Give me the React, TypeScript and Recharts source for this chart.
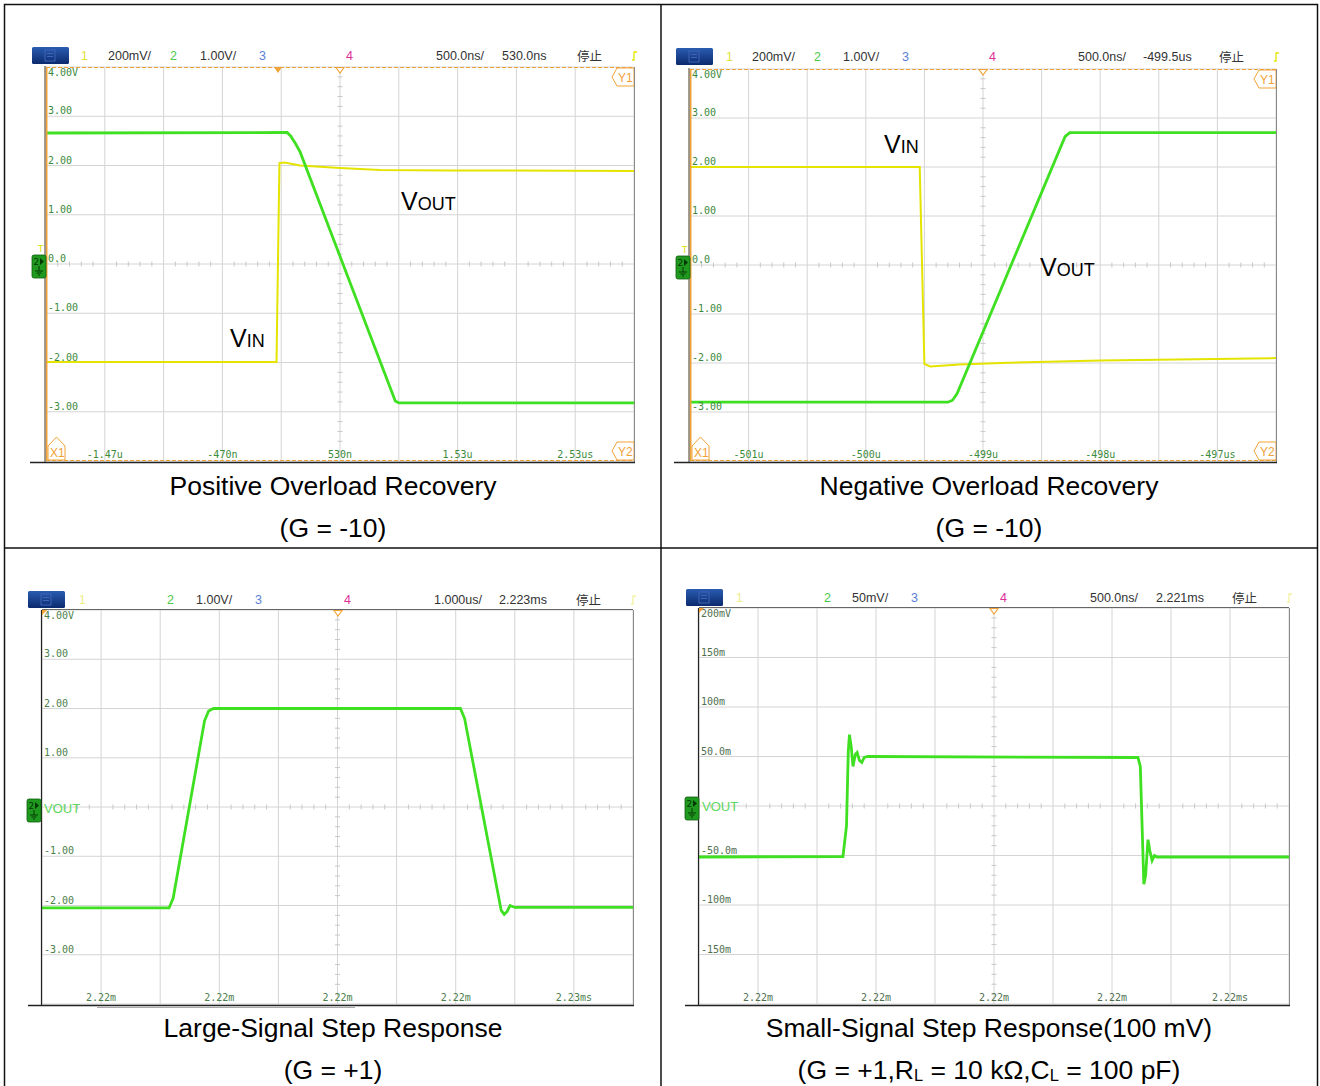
import { CartesianGrid, Line, LineChart, ReferenceLine, XAxis, YAxis } from "recharts";

const GREEN = "#3fdf22";
const YELLOW = "#e4e400";
const ORANGE = "#f0a236";
const MONO = "'DejaVu Sans Mono', monospace";

// Positive Overload Recovery (G = -10): time in µs from trigger, screen volts
const posXLabels = ["", "-1.47u", "", "-470n", "", "530n", "", "1.53u", "", "2.53us", ""];
const posVinT = [-1.97, -0.01, 0.015, 0.06, 0.19, 0.53, 0.87, 1.46, 3.03];
const posVinV = [-1.99, -1.99, 2.05, 2.06, 2.0, 1.95, 1.91, 1.9, 1.89];
const posVoutT = [-1.97, 0.08, 0.11, 0.15, 0.19, 1.0, 1.03, 3.03];
const posVoutV = [2.66, 2.67, 2.6, 2.45, 2.28, -2.78, -2.82, -2.82];

// Negative Overload Recovery (G = -10)
const negXLabels = ["", "-501u", "", "-500u", "", "-499u", "", "-498u", "", "-497us", ""];
const negVinT = [-502, -500.04, -500.0, -499.95, -499.7, -499.35, -498.5, -497];
const negVinV = [2.0, 2.0, -2.02, -2.07, -2.03, -2.0, -1.95, -1.9];
const negVoutT = [-502, -499.8, -499.76, -499.72, -498.8, -498.76, -497];
const negVoutV = [-2.8, -2.8, -2.76, -2.62, 2.62, 2.7, 2.7];

const voltLabels = ["", "-3.00", "-2.00", "-1.00", "0.0", "1.00", "2.00", "3.00", "4.00V"];

// Large-Signal Step Response (G = +1): µs, V
const lsXLabels = ["", "2.22m", "", "2.22m", "", "2.22m", "", "2.22m", "", "2.23ms", ""];
const lsYLabels = ["", "-3.00", "-2.00", "-1.00", "", "1.00", "2.00", "3.00", "4.00V"];
const lsT = [2218, 2220.15, 2220.22, 2220.75, 2220.82, 2220.9, 2225.08, 2225.15, 2225.77, 2225.82, 2225.87, 2225.92, 2226.0, 2228];
const lsV = [-2.05, -2.05, -1.85, 1.75, 1.95, 2.0, 2.0, 1.8, -2.1, -2.18, -2.12, -2.0, -2.04, -2.04];

// Small-Signal Step Response (100 mV): µs, mV
const ssXLabels = ["", "2.22m", "", "2.22m", "", "2.22m", "", "2.22m", "", "2.22ms", ""];
const ssYLabels = ["", "-150m", "-100m", "-50.0m", "", "50.0m", "100m", "150m", "200mV"];
const ssT = [2218.5, 2219.72, 2219.75, 2219.765, 2219.775, 2219.79, 2219.805, 2219.825, 2219.84, 2219.86, 2219.88, 2219.9, 2219.93, 2222.22, 2222.24, 2222.255, 2222.27, 2222.285, 2222.305, 2222.32, 2222.34, 2222.36, 2222.38, 2223.5];
const ssV = [-51.5, -51, -20, 55, 72, 60, 40, 52, 54, 46, 44, 49, 50, 49, 40, -20, -79, -70, -34, -45, -55, -50, -51.5, -51.5];

// scope header rows: text, left x, colour key
const hdrPos = [["1", 81, "y"], ["200mV/", 108, "k"], ["2", 170, "g"], ["1.00V/", 200, "k"], ["3", 259, "b"], ["4", 346, "m"], ["500.0ns/", 436, "k"], ["530.0ns", 502, "k"], ["停止", 577, "k"]];
const hdrNeg = [["1", 726, "y"], ["200mV/", 752, "k"], ["2", 814, "g"], ["1.00V/", 843, "k"], ["3", 902, "b"], ["4", 989, "m"], ["500.0ns/", 1078, "k"], ["-499.5us", 1143, "k"], ["停止", 1219, "k"]];
const hdrLs = [["1", 79, "y2"], ["2", 167, "g"], ["1.00V/", 196, "k"], ["3", 255, "b"], ["4", 344, "m"], ["1.000us/", 434, "k"], ["2.223ms", 499, "k"], ["停止", 576, "k"]];
const hdrSs = [["1", 736, "y2"], ["2", 824, "g"], ["50mV/", 852, "k"], ["3", 911, "b"], ["4", 1000, "m"], ["500.0ns/", 1090, "k"], ["2.221ms", 1156, "k"], ["停止", 1232, "k"]];

const hdrColors: Record<string, string> = { y: "#e2e23a", y2: "#eeee88", k: "#333", g: "#4cc84c", b: "#5b7fd6", m: "#dd2f98" };

const zip = (t: number[], v: number[]) => t.map((x, i) => ({ t: x, v: v[i] }));

// axis ticks are only used to place the graticule; the labels sit inside it
const noTick = () => <g />;

type Trace = { data: { t: number; v: number }[]; color: string; width: number };
type ScopeCfg = {
  left: number; top: number; w: number; h: number;
  xDomain: [number, number]; yDomain: [number, number];
  traces: Trace[];
};

function Scope({ cfg }: { cfg: ScopeCfg }) {
  const pad = 6;
  const [x0, x1] = cfg.xDomain;
  const [y0, y1] = cfg.yDomain;
  const xStep = (x1 - x0) / 10;
  const yStep = (y1 - y0) / 8;
  const xTicks = Array.from({ length: 11 }, (_, i) => +(x0 + i * xStep).toFixed(4));
  const yTicks = Array.from({ length: 9 }, (_, i) => +(y0 + i * yStep).toFixed(4));
  const xMid = (x0 + x1) / 2;
  const yMid = (y0 + y1) / 2;
  const tx = ((x1 - x0) / cfg.w) * 2.5;
  const ty = ((y1 - y0) / cfg.h) * 2.5;
  const xMinor = Array.from({ length: 49 }, (_, i) => x0 + ((i + 1) * xStep) / 5).filter((_, i) => (i + 1) % 5 !== 0);
  const yMinor = Array.from({ length: 39 }, (_, i) => y0 + ((i + 1) * yStep) / 5).filter((_, i) => (i + 1) % 5 !== 0);

  return (
    <div style={{ position: "absolute", left: cfg.left - pad, top: cfg.top - pad }}>
      <LineChart width={cfg.w + 2 * pad} height={cfg.h + 2 * pad} margin={{ top: pad, right: pad, bottom: pad, left: pad }}>
        <CartesianGrid stroke="#d4d4d4" strokeWidth={1} />
        <XAxis type="number" dataKey="t" domain={cfg.xDomain} ticks={xTicks} interval={0} allowDataOverflow height={0}
          axisLine={false} tickLine={false} tickSize={0} tickMargin={0} tick={noTick} />
        <YAxis type="number" domain={cfg.yDomain} ticks={yTicks} interval={0} allowDataOverflow width={0}
          axisLine={false} tickLine={false} tickSize={0} tickMargin={0} tick={noTick} />
        {xMinor.map((t, i) => (
          <ReferenceLine key={"mx" + i} segment={[{ x: t, y: yMid - ty }, { x: t, y: yMid + ty }]} stroke="#c8c8c8" />
        ))}
        {yMinor.map((v, i) => (
          <ReferenceLine key={"my" + i} segment={[{ x: xMid - tx, y: v }, { x: xMid + tx, y: v }]} stroke="#c8c8c8" />
        ))}
        {cfg.traces.map((tr, i) => (
          <Line key={i} data={tr.data} dataKey="v" type="linear" stroke={tr.color} strokeWidth={tr.width}
            dot={false} activeDot={false} isAnimationActive={false} />
        ))}
      </LineChart>
    </div>
  );
}

type Deco = {
  pl: number; pt: number; pr: number; pb: number;
  hx: number; hy: number; baseX: number;
  cursors: boolean; trigX?: number; cx: number;
  gx: number; gy: number; vout: boolean;
  xLabels: string[]; yLabels: string[]; labelColor: string;
};

// division labels drawn inside the graticule, as the scope does
function GridLabels({ d }: { d: Deco }) {
  const { pl, pt, pr, pb } = d;
  const dx = (pr - pl) / 10;
  const dy = (pb - pt) / 8;
  return (
    <g fontFamily={MONO} fontSize={10} fill={d.labelColor}>
      {d.xLabels.map((s, i) => s ? (
        <text key={"x" + i} x={pl + i * dx} y={pb - 3} textAnchor="middle">{s}</text>
      ) : null)}
      {d.yLabels.map((s, i) => s ? (
        <text key={"y" + i} x={pl + 2} y={i === 8 ? pt + 9 : pb - i * dy - 2}>{s}</text>
      ) : null)}
    </g>
  );
}

function ScopeDeco({ d }: { d: Deco }) {
  const { pl, pt, pr, pb, gx, gy } = d;
  return (
    <g>
      <GridLabels d={d} />
      <rect x={d.hx} y={d.hy} width={37} height={17} rx={1.5} fill="url(#hdrGrad)" />
      <rect x={d.hx + 13} y={d.hy + 3} width={10} height={11} fill="none" stroke="#3f63b5" strokeWidth={1} />
      <line x1={d.hx + 15} y1={d.hy + 6.5} x2={d.hx + 21} y2={d.hy + 6.5} stroke="#3f63b5" />
      <line x1={d.hx + 15} y1={d.hy + 9.5} x2={d.hx + 21} y2={d.hy + 9.5} stroke="#3f63b5" />
      <path d={`M${pr - 2},${d.hy + 13} h2 v-8 h3`} fill="none" stroke={d.cursors ? "#e6e600" : "#f2f2a0"} strokeWidth={1.3} />
      {d.cursors ? (
        <g>
          <line x1={pl - 1} y1={pt - 1} x2={pl - 1} y2={pb + 1} stroke="#4a3a20" strokeWidth={1} />
          <line x1={pl + 0.75} y1={pt} x2={pl + 0.75} y2={pb} stroke={ORANGE} strokeWidth={1.5} />
          <line x1={pl} y1={pt + 0.5} x2={pr} y2={pt + 0.5} stroke={ORANGE} strokeWidth={1.2} strokeDasharray="4 2" />
          <line x1={pl} y1={pb - 0.5} x2={pr} y2={pb - 0.5} stroke={ORANGE} strokeWidth={1.2} strokeDasharray="4 2" />
          <polygon points={`${pr - 22},${pt + 10} ${pr - 17},${pt + 1} ${pr},${pt + 1} ${pr},${pt + 19} ${pr - 17},${pt + 19}`} fill="#fff" stroke={ORANGE} />
          <text x={pr - 16} y={pt + 15} fontSize={12} fill={ORANGE}>Y1</text>
          <polygon points={`${pr - 22},${pb - 10} ${pr - 17},${pb - 19} ${pr},${pb - 19} ${pr},${pb - 1} ${pr - 17},${pb - 1}`} fill="#fff" stroke={ORANGE} />
          <text x={pr - 16} y={pb - 5} fontSize={12} fill={ORANGE}>Y2</text>
          <polygon points={`${pl + 2},${pb - 15} ${pl + 10.5},${pb - 24} ${pl + 19},${pb - 15} ${pl + 19},${pb - 1} ${pl + 2},${pb - 1}`} fill="#fff" stroke={ORANGE} />
          <text x={pl + 4} y={pb - 4} fontSize={12} fill={ORANGE}>X1</text>
          <text x={gx + 6} y={gy - 3} fontSize={9} fill="#e0e000" fontFamily="DejaVu Sans">T</text>
        </g>
      ) : (
        <g>
          <line x1={pl - 0.5} y1={pt} x2={pl - 0.5} y2={pb + 1} stroke="#222" strokeWidth={1.2} />
          <line x1={pl} y1={pt - 0.5} x2={pr} y2={pt - 0.5} stroke="#666" strokeWidth={1} />
          <polygon points={`${pl},${pt} ${pl + 5},${pt} ${pl},${pt + 5}`} fill={ORANGE} />
        </g>
      )}
      <line x1={pr + 0.5} y1={pt} x2={pr + 0.5} y2={pb + 1} stroke="#8a8a8a" strokeWidth={1} />
      <line x1={d.baseX} y1={pb + 1.5} x2={pr + 1} y2={pb + 1.5} stroke="#222" strokeWidth={1.5} />
      {d.trigX !== undefined && (
        <polygon points={`${d.trigX - 4},${pt} ${d.trigX + 4},${pt} ${d.trigX},${pt + 6}`} fill={ORANGE} />
      )}
      <polygon points={`${d.cx - 4},${pt + 0.5} ${d.cx + 4},${pt + 0.5} ${d.cx},${pt + 6}`} fill="#fff" stroke={ORANGE} strokeWidth={1.1} />
      <rect x={gx} y={gy} width={14} height={23} rx={2} fill="#1f9a1f" stroke="#0d5d0d" strokeWidth={0.8} />
      <text x={gx + 1.5} y={gy + 10} fontSize={9} fill="#063806" fontFamily="DejaVu Sans">2</text>
      <path d={`M${gx + 8},${gy + 3} v7 l4,-3.5 z`} fill="#063806" />
      <path d={`M${gx + 7},${gy + 11} v5 M${gx + 3},${gy + 16} h8 M${gx + 4.5},${gy + 18} h5 M${gx + 6},${gy + 20} h2`} stroke="#063806" strokeWidth={1} fill="none" />
      {d.vout && (
        <text x={gx + 17} y={gy + 14} fontSize={13} fill="#5fd85f" fontFamily="'Liberation Sans', Arial">VOUT</text>
      )}
    </g>
  );
}

const decoPos: Deco = { pl: 46, pt: 67, pr: 634, pb: 461, hx: 32, hy: 47, baseX: 30, cursors: true, trigX: 278, cx: 340, gx: 32, gy: 255, vout: false, xLabels: posXLabels, yLabels: voltLabels, labelColor: "#3b8a3b" };
const decoNeg: Deco = { pl: 690, pt: 69, pr: 1276, pb: 461, hx: 676, hy: 48, baseX: 674, cursors: true, cx: 983, gx: 676, gy: 256, vout: false, xLabels: negXLabels, yLabels: voltLabels, labelColor: "#3b8a3b" };
const decoLs: Deco = { pl: 42, pt: 610, pr: 633, pb: 1004, hx: 28, hy: 591, baseX: 28, cursors: false, cx: 338, gx: 27, gy: 799, vout: true, xLabels: lsXLabels, yLabels: lsYLabels, labelColor: "#4b804b" };
const decoSs: Deco = { pl: 699, pt: 608, pr: 1289, pb: 1004, hx: 686, hy: 589, baseX: 685, cursors: false, cx: 994, gx: 685, gy: 797, vout: true, xLabels: ssXLabels, yLabels: ssYLabels, labelColor: "#4f6f4f" };

function Header({ items, top }: { items: (string | number)[][]; top: number }) {
  return (
    <>
      {items.map(([text, x, c], i) => (
        <div key={i} style={{
          position: "absolute", left: x as number, top, fontSize: 12.5, lineHeight: 1, color: hdrColors[c as string],
          fontFamily: text === "停止" ? "'Noto Sans CJK SC', sans-serif" : "'Liberation Sans', Arial, sans-serif",
          whiteSpace: "nowrap",
        }}>{text}</div>
      ))}
    </>
  );
}

const capStyle = (left: number, top: number) => ({
  position: "absolute" as const, left, top, width: 656, textAlign: "center" as const, fontSize: 26.5, lineHeight: 1, color: "#000", whiteSpace: "nowrap" as const,
});

const Sig = ({ left, top, sub }: { left: number; top: number; sub: string }) => (
  <div style={{ position: "absolute", left, top, fontSize: 25, lineHeight: 1, color: "#000" }}>
    V<span style={{ fontSize: 18 }}>{sub}</span>
  </div>
);

const subL = { fontSize: "0.62em", verticalAlign: "-0.12em" };

export default function App() {
  const pos: ScopeCfg = {
    left: 46, top: 67, w: 588, h: 394, xDomain: [-1.97, 3.03], yDomain: [-4, 4],
    traces: [{ data: zip(posVinT, posVinV), color: YELLOW, width: 2 }, { data: zip(posVoutT, posVoutV), color: GREEN, width: 2.8 }],
  };
  const neg: ScopeCfg = {
    left: 690, top: 69, w: 586, h: 392, xDomain: [-502, -497], yDomain: [-4, 4],
    traces: [{ data: zip(negVinT, negVinV), color: YELLOW, width: 2 }, { data: zip(negVoutT, negVoutV), color: GREEN, width: 2.8 }],
  };
  const ls: ScopeCfg = {
    left: 42, top: 610, w: 591, h: 394, xDomain: [2218, 2228], yDomain: [-4, 4],
    traces: [{ data: zip(lsT, lsV), color: GREEN, width: 2.8 }],
  };
  const ss: ScopeCfg = {
    left: 699, top: 608, w: 590, h: 396, xDomain: [2218.5, 2223.5], yDomain: [-200, 200],
    traces: [{ data: zip(ssT, ssV), color: GREEN, width: 2.8 }],
  };

  return (
    <div style={{ position: "absolute", left: 0, top: 0, width: 1320, height: 1086, background: "#fff", overflow: "hidden", fontFamily: "'Liberation Sans', Arial, sans-serif" }}>
      <Scope cfg={pos} />
      <Scope cfg={neg} />
      <Scope cfg={ls} />
      <Scope cfg={ss} />

      <svg width={1320} height={1086} style={{ position: "absolute", left: 0, top: 0, pointerEvents: "none" }}>
        <defs>
          <linearGradient id="hdrGrad" x1="0" y1="0" x2="0" y2="1">
            <stop offset="0" stopColor="#2a5cb0" />
            <stop offset="1" stopColor="#0b2a6e" />
          </linearGradient>
        </defs>
        <ScopeDeco d={decoPos} />
        <ScopeDeco d={decoNeg} />
        <ScopeDeco d={decoLs} />
        <ScopeDeco d={decoSs} />
        <line x1={97} y1={1007.5} x2={355} y2={1007.5} stroke="#aaa" strokeWidth={1} />
        <rect x={4.5} y={4.5} width={1313} height={1090} fill="none" stroke="#111" strokeWidth={1.5} />
        <line x1={661} y1={4.5} x2={661} y2={1086} stroke="#111" strokeWidth={1.5} />
        <line x1={4.5} y1={548} x2={1317.5} y2={548} stroke="#111" strokeWidth={1.5} />
      </svg>

      <Header items={hdrPos} top={50} />
      <Header items={hdrNeg} top={51} />
      <Header items={hdrLs} top={594} />
      <Header items={hdrSs} top={592} />

      <Sig left={401} top={189} sub="OUT" />
      <Sig left={230} top={326} sub="IN" />
      <Sig left={884} top={132} sub="IN" />
      <Sig left={1040} top={255} sub="OUT" />

      <div style={capStyle(5, 472.6)}>Positive Overload Recovery</div>
      <div style={capStyle(5, 514.6)}>(G = -10)</div>
      <div style={capStyle(661, 472.6)}>Negative Overload Recovery</div>
      <div style={capStyle(661, 514.6)}>(G = -10)</div>
      <div style={capStyle(5, 1014.6)}>Large-Signal Step Response</div>
      <div style={capStyle(5, 1056.6)}>(G = +1)</div>
      <div style={capStyle(661, 1014.6)}>Small-Signal Step Response(100 mV)</div>
      <div style={capStyle(661, 1056.6)}>
        (G = +1,R<span style={subL}>L</span> = 10 kΩ,C<span style={subL}>L</span> = 100 pF)
      </div>
    </div>
  );
}
